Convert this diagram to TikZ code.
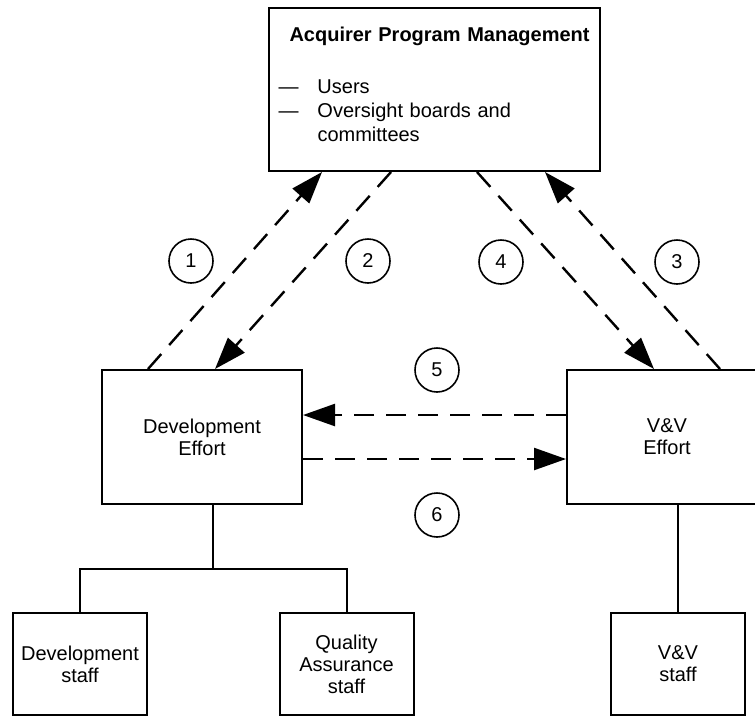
\documentclass[tikz,border=0pt]{standalone}
\usepackage{fontspec}
\setmainfont{Liberation Sans}
\usetikzlibrary{arrows.meta}

\begin{document}
\begin{tikzpicture}[x=0.5pt, y=-0.5pt,
        ramka/.style={draw, line width=1pt, align=center, inner sep=2pt,
            font=\fontsize{10}{11}\selectfont},
        numer/.style={draw, circle, line width=0.8pt, minimum size=22pt, inner sep=0pt},
        przeplyw/.style={line width=1.2pt, dash pattern=on 10pt off 6pt,
            -{Triangle[length=16pt, width=11pt]}},
        galaz/.style={line width=1pt}]
    % --- PARAMETRY DO MODYFIKACJI ---
    \pgfmathsetmacro{\effW}{100}      % Szerokość ramek "Effort" [pt]
    \pgfmathsetmacro{\effH}{67}       % Wysokość ramek "Effort" [pt]
    \pgfmathsetmacro{\staffW}{67}     % Szerokość ramek "staff" [pt]
    \pgfmathsetmacro{\staffH}{51}     % Wysokość ramek "staff" [pt]
    \pgfmathsetmacro{\arrowOff}{11}   % Odsunięcie strzałek 5 i 6 od środka [pt]
    \pgfmathsetmacro{\dashW}{19.5}    % Wcięcie listy w górnej ramce [pt]

    % Kadr rysunku
    \useasboundingbox (0,0) rectangle (755,725);
    \clip (0,0) rectangle (755,725);

    % Górna ramka
    \node[ramka, minimum width=165.5pt, minimum height=81.5pt, text width=156pt,
          align=left, inner xsep=4pt, font=\fontsize{10}{12}\selectfont] (apm) at (434.5,89.5)
        {\hspace*{5.5pt}\textbf{Acquirer Program Management}\\[14pt]
         \makebox[\dashW pt][l]{—}Users\\
         \makebox[\dashW pt][l]{—}Oversight boards and\\
         \hspace*{\dashW pt}committees\rule[-5pt]{0pt}{0pt}};

    % Ramki Effort
    \node[ramka, minimum width=\effW pt, minimum height=\effH pt] (dev) at (202,437)
        {Development\\Effort};
    \node[ramka, minimum width=\effW pt, minimum height=\effH pt] (vv) at (667,437)
        {V\&V\\Effort};

    % Ramki staff
    \node[ramka, minimum width=\staffW pt, minimum height=\staffH pt] (devstaff) at (80,664)
        {Development\\staff};
    \node[ramka, minimum width=\staffW pt, minimum height=\staffH pt] (qa) at (346.5,664)
        {Quality\\Assurance\\staff};
    \node[ramka, minimum width=\staffW pt, minimum height=\staffH pt] (vvstaff) at (678,664)
        {V\&V\\staff};

    % Numery przepływów
    \node[numer] (n1) at (191,261) {1};
    \node[numer] (n2) at (368,261) {2};
    \node[numer] (n3) at (677,262) {3};
    \node[numer] (n4) at (501,262) {4};
    \node[numer] (n5) at (437,370) {5};
    \node[numer] (n6) at (437,515) {6};

    % Przepływy ukośne
    \draw[przeplyw] ([xshift=23.5pt]dev.north west) -- ([xshift=27pt]apm.south west);
    \draw[przeplyw] ([xshift=61.5pt]apm.south west) -- ([xshift=57pt]dev.north west);
    \draw[przeplyw] ([xshift=77pt]vv.north west) -- ([xshift=138.5pt]apm.south west);
    \draw[przeplyw] ([xshift=104.5pt]apm.south west) -- ([xshift=44pt]vv.north west);

    % Przepływy poziome
    \draw[przeplyw] ([yshift=\arrowOff pt]vv.west) -- ([yshift=\arrowOff pt]dev.east);
    \draw[przeplyw] ([yshift=-\arrowOff pt]dev.east) -- ([yshift=-\arrowOff pt]vv.west);

    % Struktura organizacyjna
    \coordinate (rozgal) at (213,569);
    \draw[galaz] (dev.south -| rozgal) -- (rozgal);
    \draw[galaz] (devstaff.north) |- (rozgal) -| (qa.north);
    \draw[galaz] (vvstaff.north) -- (vvstaff.north |- vv.south);
\end{tikzpicture}
\end{document}
